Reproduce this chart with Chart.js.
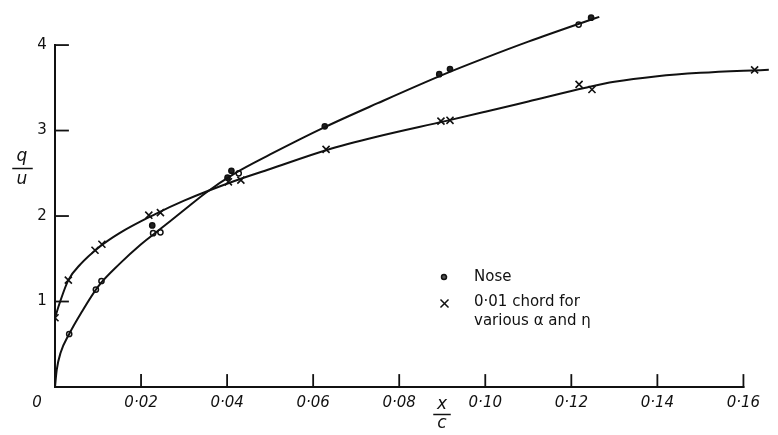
<!DOCTYPE html>
<html>
<head>
<meta charset="utf-8">
<script src="https://cdn.jsdelivr.net/npm/chart.js@4.4.1/dist/chart.umd.min.js"></script>
<style>
  html, body { margin: 0; padding: 0; background: #fff; }
  #wrap { width: 778px; height: 435px; }
</style>
</head>
<body>
<div id="wrap"><canvas id="chart" width="778" height="435"></canvas></div>
<script>
// Measured points, "Nose"
const noseX = [0.0033, 0.0095, 0.0108, 0.0226, 0.0228, 0.0245, 0.0401, 0.0410, 0.0427, 0.0627, 0.0893, 0.0918, 0.1217, 0.1246];
const noseY = [0.62, 1.14, 1.24, 1.89, 1.80, 1.81, 2.45, 2.53, 2.50, 3.05, 3.66, 3.72, 4.24, 4.32];
const noseFilled = [false, false, false, true, false, false, true, true, false, true, true, true, false, true];

// Measured points, 0.01 chord
const chordX = [0.0, 0.0031, 0.0093, 0.0109, 0.0218, 0.0245, 0.0403, 0.0432, 0.0630, 0.0897, 0.0918, 0.1218, 0.1248, 0.1626];
const chordY = [0.81, 1.25, 1.60, 1.67, 2.01, 2.04, 2.40, 2.42, 2.78, 3.11, 3.12, 3.54, 3.48, 3.71];

// Faired curves
const noseCurveX = [0, 0.0004, 0.0013, 0.0033, 0.006, 0.0101, 0.015, 0.02, 0.0235, 0.03, 0.035, 0.0415, 0.05, 0.0627, 0.075, 0.0905, 0.10, 0.11, 0.123, 0.1265];
const noseCurveY = [0, 0.2, 0.4, 0.62, 0.86, 1.18, 1.44, 1.67, 1.81, 2.07, 2.27, 2.49, 2.72, 3.04, 3.32, 3.66, 3.85, 4.04, 4.27, 4.33];
const chordCurveX = [0, 0.0012, 0.0031, 0.006, 0.0101, 0.015, 0.0232, 0.03, 0.0417, 0.05, 0.063, 0.075, 0.0907, 0.10, 0.11, 0.1233, 0.13, 0.14, 0.15, 0.16, 0.1659];
const chordCurveY = [0.81, 1.0, 1.25, 1.44, 1.63, 1.80, 2.02, 2.18, 2.41, 2.55, 2.77, 2.93, 3.11, 3.22, 3.34, 3.50, 3.57, 3.635, 3.675, 3.70, 3.71];

// Axis ticks
const xTicks = [0.02, 0.04, 0.06, 0.08, 0.10, 0.12, 0.14, 0.16];
const xTickLabels = ['0·02', '0·04', '0·06', '0·08', '0·10', '0·12', '0·14', '0·16'];
const yTicks = [1, 2, 3, 4];
const yTickLabels = ['1', '2', '3', '4'];

const INK = '#111';
const pts = (xs, ys) => xs.map((x, i) => ({x: x, y: ys[i]}));

const axesPlugin = {
    id: 'handAxes',
    afterDraw(chart) {
        const ctx = chart.ctx;
        const xs = chart.scales.x, ys = chart.scales.y;
        const x0 = xs.getPixelForValue(0), y0 = ys.getPixelForValue(0);
        ctx.save();
        ctx.strokeStyle = INK;
        ctx.fillStyle = INK;
        ctx.lineWidth = 2;
        ctx.lineCap = 'square';

        // axis lines
        ctx.beginPath();
        ctx.moveTo(x0, ys.getPixelForValue(4));
        ctx.lineTo(x0, y0);
        ctx.lineTo(xs.getPixelForValue(0.16), y0);
        ctx.stroke();

        // ticks inside
        ctx.lineWidth = 1.8;
        xTicks.forEach(v => {
            const px = xs.getPixelForValue(v);
            ctx.beginPath();
            ctx.moveTo(px, y0);
            ctx.lineTo(px, y0 - 12);
            ctx.stroke();
        });
        yTicks.forEach(v => {
            const py = ys.getPixelForValue(v);
            ctx.beginPath();
            ctx.moveTo(x0, py);
            ctx.lineTo(x0 + 13, py);
            ctx.stroke();
        });

        // tick labels
        ctx.font = 'italic 15px "DejaVu Sans"';
        ctx.textAlign = 'center';
        ctx.textBaseline = 'middle';
        xTicks.forEach((v, i) => {
            ctx.fillText(xTickLabels[i], xs.getPixelForValue(v), y0 + 16);
        });
        ctx.fillText('0', x0 - 18, y0 + 16);
        ctx.font = '15px "DejaVu Sans"';
        yTicks.forEach((v, i) => {
            ctx.fillText(yTickLabels[i], x0 - 13, ys.getPixelForValue(v));
        });

        // axis titles as fractions
        ctx.font = 'italic 17px "DejaVu Sans"';
        ctx.fillText('q', 22, 157);
        ctx.fillText('u', 22, 180);
        ctx.lineWidth = 1.5;
        ctx.beginPath();
        ctx.moveTo(13, 168.5);
        ctx.lineTo(32, 168.5);
        ctx.stroke();

        ctx.fillText('x', 442, 405);
        ctx.fillText('c', 442, 424);
        ctx.beginPath();
        ctx.moveTo(434, 414.5);
        ctx.lineTo(450, 414.5);
        ctx.stroke();

        // legend
        ctx.lineWidth = 1.5;
        ctx.beginPath();
        ctx.arc(444, 277, 2.5, 0, Math.PI * 2);
        ctx.fillStyle = '#555';
        ctx.fill();
        ctx.stroke();
        ctx.fillStyle = INK;
        ctx.beginPath();
        ctx.moveTo(441, 300); ctx.lineTo(448, 307);
        ctx.moveTo(448, 300); ctx.lineTo(441, 307);
        ctx.stroke();
        ctx.font = '15px "DejaVu Sans"';
        ctx.textAlign = 'left';
        ctx.fillText('Nose', 474, 277);
        ctx.fillText('0·01 chord for', 474, 302);
        ctx.fillText('various α and η', 474, 321);
        ctx.restore();
    }
};

new Chart(document.getElementById('chart'), {
    type: 'scatter',
    data: {
        datasets: [
            {
                label: 'Nose curve',
                data: pts(noseCurveX, noseCurveY),
                showLine: true,
                borderColor: INK,
                borderWidth: 2,
                pointRadius: 0,
                cubicInterpolationMode: 'monotone'
            },
            {
                label: 'Chord curve',
                data: pts(chordCurveX, chordCurveY),
                showLine: true,
                borderColor: INK,
                borderWidth: 2,
                pointRadius: 0,
                cubicInterpolationMode: 'monotone'
            },
            {
                label: 'Nose',
                data: pts(noseX, noseY),
                pointStyle: 'circle',
                pointRadius: 2.6,
                borderWidth: 1.5,
                borderColor: INK,
                backgroundColor: noseFilled.map(f => f ? '#222' : '#fff')
            },
            {
                label: '0·01 chord for various α and η',
                data: pts(chordX, chordY),
                pointStyle: 'crossRot',
                pointRadius: 5,
                borderWidth: 1.6,
                borderColor: INK
            }
        ]
    },
    options: {
        responsive: false,
        animation: false,
        layout: { padding: { left: 55, right: 4, top: 3, bottom: 48 } },
        plugins: { legend: { display: false }, tooltip: { enabled: false } },
        scales: {
            x: { type: 'linear', min: 0, max: 0.1665, display: false },
            y: { type: 'linear', min: 0, max: 4.45, display: false }
        }
    },
    plugins: [axesPlugin]
});
</script>
</body>
</html>
